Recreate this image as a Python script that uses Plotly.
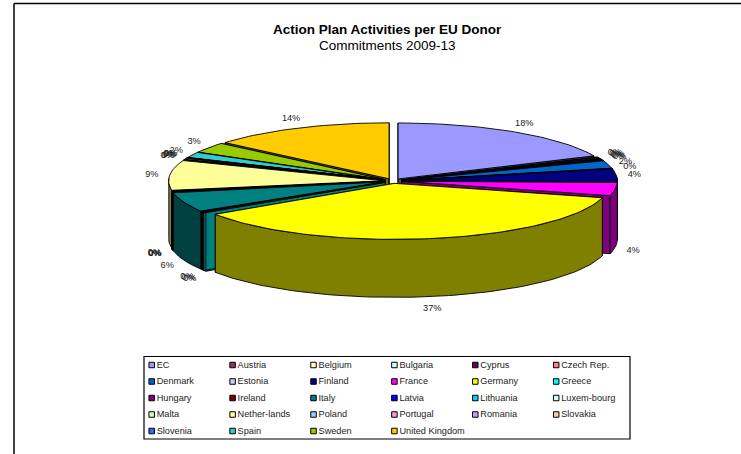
import math
import plotly.graph_objects as go

donors = ["EC", "Austria", "Belgium", "Bulgaria", "Cyprus", "Czech Rep.",
          "Denmark", "Estonia", "Finland", "France", "Germany", "Greece",
          "Hungary", "Ireland", "Italy", "Latvia", "Lithuania", "Luxem-bourg",
          "Malta", "Nether-lands", "Poland", "Portugal", "Romania", "Slovakia",
          "Slovenia", "Spain", "Sweden", "United Kingdom"]
shares = [18.2, 0.2, 0.3, 0.2, 0.2, 0.2,
          2.2, 0.1, 3.7, 3.8, 36.52, 0.28,
          0.1, 0.2, 5.6, 0.1, 0.1, 0.1,
          0.1, 8.6, 0.1, 0.3, 0.1, 0.1,
          0.1, 1.6, 3.0, 13.8]
top_colors = ["#9999FF", "#993366", "#FFFFCC", "#CCFFFF", "#660066", "#FF8080",
              "#0066CC", "#CCCCFF", "#000080", "#FF00FF", "#FFFF00", "#00FFFF",
              "#800080", "#800000", "#008080", "#0000FF", "#00CCFF", "#CCFFFF",
              "#CCFFCC", "#FFFF99", "#99CCFF", "#FF99CC", "#CC99FF", "#FFCC99",
              "#3366FF", "#33CCCC", "#99CC00", "#FFCC00"]

W, H = 741, 454
CX, CY, RX, RY, DEPTH = 393, 181, 215, 56, 58
EX, EY = 9.4, 2.4
FONT = "Liberation Sans"


def side_color(hex_color):
    r, g, b = (int(hex_color[i:i + 2], 16) // 2 for i in (1, 3, 5))
    return f"#{r:02X}{g:02X}{b:02X}"


def polygon(xs, ys, fill):
    return go.Scatter(x=xs, y=ys, mode="lines", fill="toself", fillcolor=fill,
                      line=dict(color="black", width=0.9), hoverinfo="skip",
                      showlegend=False)


total = sum(shares)
slices = []
start = 0.0
for name, share, color in zip(donors, shares, top_colors):
    a0 = start / total * 2 * math.pi
    a1 = (start + share) / total * 2 * math.pi
    mid = (a0 + a1) / 2
    slices.append(dict(name=name, share=share, color=color, a0=a0, a1=a1, mid=mid,
                       ax=CX + EX * math.sin(mid), ay=CY - EY * math.cos(mid)))
    start += share

traces = []
# painter's order: farthest slice first
for s in sorted(slices, key=lambda v: -math.cos(v["mid"])):
    ax, ay = s["ax"], s["ay"]
    n = max(2, int((s["a1"] - s["a0"]) / 0.03))
    angles = [s["a0"] + (s["a1"] - s["a0"]) * i / n for i in range(n + 1)]
    rim_x = [ax + RX * math.sin(t) for t in angles]
    rim_y = [ay - RY * math.cos(t) for t in angles]
    dark = side_color(s["color"])
    # radial walls
    for i in (0, -1):
        traces.append(polygon([ax, rim_x[i], rim_x[i], ax, ax],
                              [ay, rim_y[i], rim_y[i] + DEPTH, ay + DEPTH, ay], dark))
    # outer wall, front half only
    front = [i for i, t in enumerate(angles) if math.cos(t) <= 0.05]
    if len(front) >= 2:
        fx = [rim_x[i] for i in front]
        fy = [rim_y[i] for i in front]
        traces.append(polygon(fx + fx[::-1] + fx[:1],
                              fy + [v + DEPTH for v in fy[::-1]] + fy[:1], dark))
    traces.append(polygon([ax] + rim_x + [ax], [ay] + rim_y + [ay], s["color"]))

# percentage labels
lab_x, lab_y, lab_t = [], [], []
for s in slices:
    t = s["mid"]
    lab_x.append(s["ax"] + (RX + 18) * math.sin(t))
    lab_y.append(s["ay"] - (RY + 10) * math.cos(t) + (DEPTH + 2 if math.cos(t) < 0.05 else 0))
    lab_t.append(f"{round(s['share'] / total * 100)}%")
traces.append(go.Scatter(x=lab_x, y=lab_y, text=lab_t, mode="text", textposition="middle center",
                         textfont=dict(family=FONT, size=9.2, color="#222222"),
                         hoverinfo="skip", showlegend=False))

# legend grid
LEG_X0, LEG_DX, LEG_Y0, LEG_DY = 151.7, 80.9, 365, 16.5
leg_x = [LEG_X0 + LEG_DX * (i % 6) for i in range(len(donors))]
leg_y = [LEG_Y0 + LEG_DY * (i // 6) for i in range(len(donors))]
traces.append(go.Scatter(x=leg_x, y=leg_y, mode="markers", cliponaxis=False,
                         marker=dict(symbol="square", size=5.5, color=top_colors,
                                     line=dict(color="black", width=1)),
                         hoverinfo="skip", showlegend=False))
traces.append(go.Scatter(x=[v + 5 for v in leg_x], y=[v + 0.6 for v in leg_y], mode="text", text=donors,
                         textposition="middle right",
                         textfont=dict(family=FONT, size=9.2, color="#222222"),
                         hoverinfo="skip", showlegend=False))

fig = go.Figure(traces)
fig.update_layout(
    width=W, height=H, margin=dict(l=0, r=0, t=0, b=0),
    paper_bgcolor="white", plot_bgcolor="white", showlegend=False,
    xaxis=dict(range=[0, W], visible=False, fixedrange=True),
    yaxis=dict(range=[H, 0], visible=False, fixedrange=True),
    shapes=[
        dict(type="line", x0=14, x1=W, y0=3.5, y1=3.5, line=dict(color="black", width=1.5)),
        dict(type="line", x0=14, x1=14, y0=3.5, y1=H, line=dict(color="black", width=1.5)),
        dict(type="rect", x0=144, x1=630, y0=356.5, y1=439, line=dict(color="black", width=1.2)),
    ],
    annotations=[
        dict(x=387, y=29, xref="x", yref="y", showarrow=False, text="<b>Action Plan Activities per EU Donor</b>",
             font=dict(family=FONT, size=13.5, color="black")),
        dict(x=387, y=45, xref="x", yref="y", showarrow=False, text="Commitments 2009-13",
             font=dict(family=FONT, size=13.5, color="black")),
    ],
)
fig.write_html("out.html", config={"displayModeBar": False},
               post_script="document.body.style.margin='0';document.documentElement.style.overflow='hidden';")
